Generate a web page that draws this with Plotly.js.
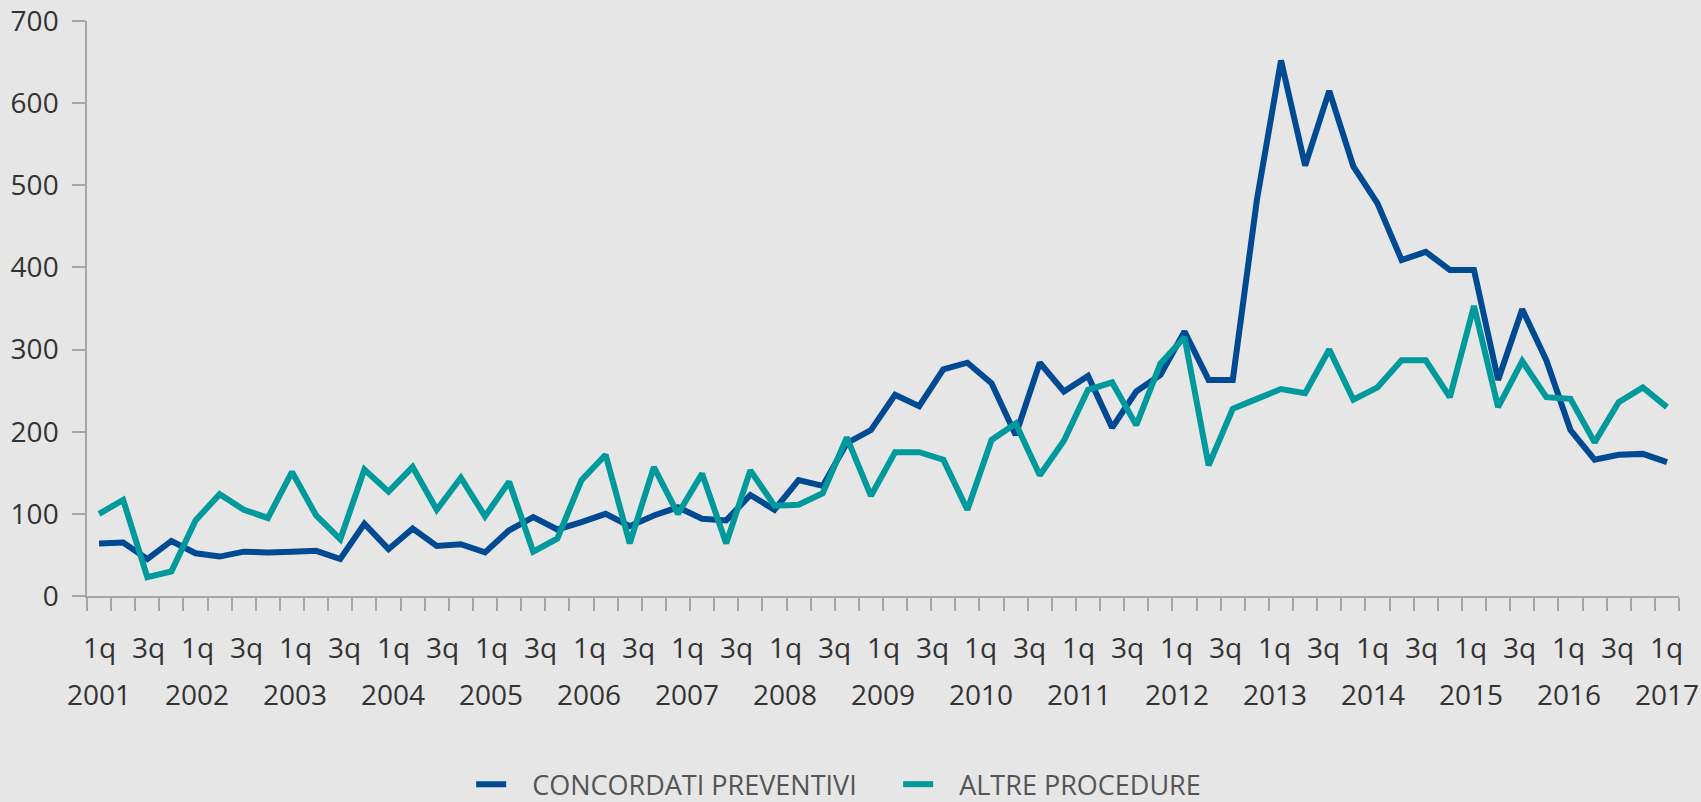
<!DOCTYPE html>
<html>
<head>
<meta charset="utf-8">
<script src="https://cdn.plot.ly/plotly-3.0.1.min.js"></script>
<style>
html, body { margin: 0; padding: 0; background: #e6e6e6; }
#chart { width: 1701px; height: 802px; }
</style>
</head>
<body>
<div id="chart"></div>
<script>
// Quarterly categories (66 points as drawn in the reference)
const quarters = [
  "2001 1q","2001 2q","2001 3q","2001 4q",
  "2002 1q","2002 2q","2002 3q","2002 4q",
  "2003 1q","2003 2q","2003 3q","2003 4q",
  "2004 1q","2004 2q","2004 3q","2004 4q",
  "2005 1q","2005 2q","2005 3q","2005 4q",
  "2006 1q","2006 2q","2006 3q","2006 4q",
  "2007 1q","2007 2q","2007 3q","2007 4q",
  "2008 1q","2008 2q","2008 3q","2008 4q",
  "2009 1q","2009 2q","2009 3q","2009 4q",
  "2010 1q","2010 2q","2010 3q","2010 4q",
  "2011 1q","2011 2q","2011 3q","2011 4q",
  "2012 1q","2012 2q","2012 3q","2012 4q",
  "2013 1q","2013 2q","2013 3q","2013 4q",
  "2014 1q","2014 2q","2014 3q","2014 4q",
  "2015 1q","2015 2q","2015 3q","2015 4q",
  "2016 1q","2016 2q","2016 3q","2016 4q",
  "2017 1q","2017 2q"
];

const concordatiPreventivi = [
  64, 65, 45, 67,   52, 48, 54, 53,   54, 55, 45, 88,   57, 82, 61, 63,
  53, 80, 96, 81,   90, 100, 85, 98,  108, 94, 92, 123, 105, 141, 134, 186,
  202, 245, 231, 276, 284, 259, 196, 284, 249, 268, 205, 249, 269, 322, 263, 263,
  482, 652, 524, 615, 523, 478, 409, 419, 397, 397, 263, 349, 287, 202, 166, 172,
  173, 163
];

const altreProcedure = [
  100, 117, 23, 30,  92, 124, 105, 95,  151, 98, 69, 154,  127, 157, 105, 144,
  97, 139, 54, 70,   141, 172, 64, 157, 100, 149, 64, 153, 110, 111, 125, 193,
  122, 175, 175, 166, 105, 190, 210, 147, 189, 251, 260, 208, 283, 315, 159, 228,
  240, 252, 247, 300, 239, 254, 287, 287, 242, 353, 230, 286, 242, 240, 187, 236,
  254, 230
];

// Axis tick labels
const quarterTickLabels = [
  "1q","3q","1q","3q","1q","3q","1q","3q","1q","3q","1q","3q","1q","3q","1q","3q",
  "1q","3q","1q","3q","1q","3q","1q","3q","1q","3q","1q","3q","1q","3q","1q","3q","1q"
];
const yearTickLabels = [
  "2001","2002","2003","2004","2005","2006","2007","2008","2009",
  "2010","2011","2012","2013","2014","2015","2016","2017"
];
const yTickValues = [0, 100, 200, 300, 400, 500, 600, 700];

const seriesNames = ["CONCORDATI PREVENTIVI", "ALTRE PROCEDURE"];
const colors = ["#004a93", "#00999c"];

const n = quarters.length;
const xIdx = quarters.map((_, i) => i);
const boundaryTicks = [];
for (let i = 0; i <= n; i++) boundaryTicks.push(i - 0.5);
const labelStep = (n - 1) / (quarterTickLabels.length - 1);

const fontFam = "'Open Sans', 'Noto Sans', sans-serif";
const labelFont = { family: fontFam, size: 28, color: "#333333" };

const annotations = [];
quarterTickLabels.forEach((t, k) => {
  annotations.push({
    xref: "x", yref: "paper", x: k * labelStep, y: -0.0887,
    xanchor: "center", yanchor: "middle", text: t, showarrow: false, font: labelFont
  });
});
yearTickLabels.forEach((t, j) => {
  annotations.push({
    xref: "x", yref: "paper", x: 2 * j * labelStep, y: -0.1713,
    xanchor: "center", yanchor: "middle", text: t, showarrow: false, font: labelFont
  });
});

const nb = "\u00a0\u00a0\u00a0";
const traces = [
  {
    x: xIdx, y: concordatiPreventivi, text: quarters,
    type: "scatter", mode: "lines", name: nb + seriesNames[0],
    line: { color: colors[0], width: 6 },
    hovertemplate: "%{text}: %{y}<extra>" + seriesNames[0] + "</extra>"
  },
  {
    x: xIdx, y: altreProcedure, text: quarters,
    type: "scatter", mode: "lines", name: nb + seriesNames[1],
    line: { color: colors[1], width: 6 },
    hovertemplate: "%{text}: %{y}<extra>" + seriesNames[1] + "</extra>"
  }
];

const axisGray = "#a6a6a6";
const xRange = [-0.5, n - 0.5];

const layout = {
  width: 1701, height: 802,
  paper_bgcolor: "#e6e6e6", plot_bgcolor: "#e6e6e6",
  margin: { l: 87, r: 22, t: 21, b: 206, autoexpand: false },
  showlegend: true,
  font: { family: fontFam, size: 28, color: "#333333" },
  xaxis: {
    range: xRange, tickmode: "array", tickvals: boundaryTicks,
    showticklabels: false, ticks: "outside", ticklen: 13, tickwidth: 1.5, tickcolor: axisGray,
    showline: true, linecolor: axisGray, linewidth: 1.5,
    showgrid: false, zeroline: false, fixedrange: true, automargin: false
  },
  yaxis: {
    range: [0, 700], tickmode: "array", tickvals: yTickValues,
    ticks: "outside", ticklen: 13, tickwidth: 1.5, tickcolor: axisGray,
    showline: true, linecolor: axisGray, linewidth: 1.5,
    showgrid: false, zeroline: false, fixedrange: true, automargin: false,
    ticklabelstandoff: 8,
    tickfont: labelFont
  },
  annotations: annotations,
  legend: {
    orientation: "h", x: 0.2413, xanchor: "left", y: -0.328, yanchor: "middle",
    bgcolor: "rgba(0,0,0,0)",
    font: { family: fontFam, size: 27, color: "#555555" },
    itemwidth: 30, entrywidth: 382, entrywidthmode: "pixels"
  }
};

Plotly.newPlot("chart", traces, layout, { displayModeBar: false });
</script>
</body>
</html>
